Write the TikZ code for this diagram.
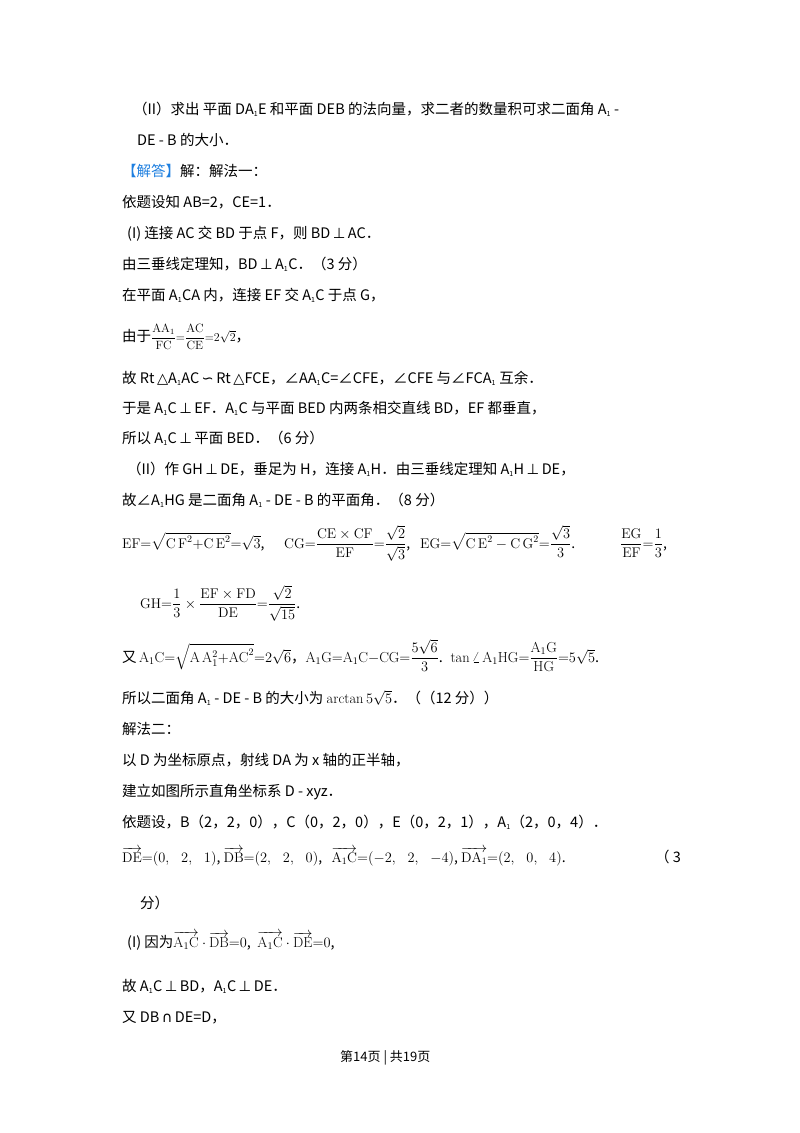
\documentclass[tikz,border=0pt]{standalone}
\usepackage{amsmath}
\usepackage{fontspec}
\setmainfont{Noto Sans CJK SC}
\setmathrm{Latin Modern Roman}
\newfontfamily\dv{DejaVu Sans}
\begin{document}
\begin{tikzpicture}[x=1pt,y=-1pt,every node/.style={anchor=base west,inner sep=0pt,font=\fontsize{14.5}{17}\selectfont},
 m/.style={font=\fontsize{14}{17}\selectfont}]
\useasboundingbox (0,0) rectangle (800,1133);
\fill[white] (0,0) rectangle (800,1133);
\newcommand{\s}[1]{\textsubscript{\scriptsize #1}}
\node (l1) at (133,114) {（II）求出 平面 DA\s1E 和平面 DEB 的法向量，求二者的数量积可求二面角 A\s1 -};
\node (l2) at (137,145) {DE - B 的大小．};
\node (l3) at (122,176) {\textcolor[HTML]{1E7FE0}{【解答】}解：解法一：};
\node (l4) at (122,207) {依题设知 AB=2，CE=1．};
\node (l5) at (127,238) {(I) 连接 AC 交 BD 于点 F，则 BD\,{\dv ⊥}\,AC．};
\node (l6) at (122,269) {由三垂线定理知，BD\,{\dv ⊥}\,A\s1C．（3 分）};
\node (l7) at (122,300) {在平面 A\s1CA 内，连接 EF 交 A\s1C 于点 G，};
\node (l8) at (122,341) {由于{\fontsize{12}{14}\selectfont$\dfrac{\mathrm{AA_1}}{\mathrm{FC}}{=}\dfrac{\mathrm{AC}}{\mathrm{CE}}{=}2\sqrt{2}$}，};
\node (l9) at (122,383) {故 Rt\,{\dv △}A\s1AC\,{\dv ∽}\,Rt\,{\dv △}FCE，∠AA\s1C=∠CFE，∠CFE 与∠FCA\s1 互余．};
\node (l10) at (122,413) {于是 A\s1C\,{\dv ⊥}\,EF．A\s1C 与平面 BED 内两条相交直线 BD，EF 都垂直，};
\node (l11) at (122,443) {所以 A\s1C\,{\dv ⊥}\,平面 BED．（6 分）};
\node (l12) at (127,474) {（II）作 GH\,{\dv ⊥}\,DE，垂足为 H，连接 A\s1H．由三垂线定理知 A\s1H\,{\dv ⊥}\,DE，};
\node (l13) at (122,505) {故∠A\s1HG 是二面角 A\s1 - DE - B 的平面角．（8 分）};
\node[m] (f1) at (122,548) {$\mathrm{EF}{=}\sqrt{\mathrm{C\,F}^2{+}\mathrm{C\,E}^2}{=}\sqrt3$,};
\node[m] (f2) at (284,548) {$\mathrm{CG}{=}\dfrac{\mathrm{CE}\times\mathrm{CF}}{\mathrm{EF}}{=}\dfrac{\sqrt2}{\sqrt3}$,};
\node[m] (f3) at (420,548) {$\mathrm{EG}{=}\sqrt{\mathrm{C\,E}^2-\mathrm{C\,G}^2}{=}\dfrac{\sqrt3}{3}$.};
\node[m] (f4) at (620,548) {$\dfrac{\mathrm{EG}}{\mathrm{EF}}{=}\dfrac{1}{3}$,};
\node[m] (f5) at (140,608) {$\mathrm{GH}{=}\dfrac13\times\dfrac{\mathrm{EF}\times\mathrm{FD}}{\mathrm{DE}}{=}\dfrac{\sqrt2}{\sqrt{15}}$.};
\node (l14) at (122,662) {又\,{\fontsize{14.5}{18}\selectfont $\mathrm{A_1C}{=}\sqrt{\mathrm{A\,A_1^2}{+}\mathrm{AC}^2}{=}2\sqrt6$，$\mathrm{A_1G}{=}\mathrm{A_1C}{-}\mathrm{CG}{=}\dfrac{5\sqrt6}{3}$. \ $\tan\angle\,\mathrm{A_1HG}{=}\dfrac{\mathrm{A_1G}}{\mathrm{HG}}{=}5\sqrt5$.}};
\node (l15) at (122,703) {所以二面角 A\s1 - DE - B 的大小为 $\arctan5\sqrt5$．（（12 分））};
\node (l16) at (122,734) {解法二：};
\node (l17) at (122,765) {以 D 为坐标原点，射线 DA 为 x 轴的正半轴，};
\node (l18) at (122,796) {建立如图所示直角坐标系 D - xyz．};
\node (l19) at (122,827) {依题设，B（2，2，0），C（0，2，0），E（0，2，1），A\s1（2，0，4）．};
\node[m] (l20) at (122,862) {$\overrightarrow{\mathrm{DE}}{=}(0,\ \ \ 2,\ \ \ 1)$,\ $\overrightarrow{\mathrm{DB}}{=}(2,\ \ \ 2,\ \ \ 0)$,\ \ \ $\overrightarrow{\mathrm{A_1C}}{=}(-2,\ \ \ 2,\ \ \ -4)$,\ $\overrightarrow{\mathrm{DA_1}}{=}(2,\ \ \ 0,\ \ \ 4)$.};
\node (l21) at (655,862) {（ 3};
\node (l22) at (140,908) {分）};
\node (l23) at (127,947) {(I) 因为{\fontsize{14.5}{18}\selectfont $\overrightarrow{\mathrm{A_1C}}\cdot\overrightarrow{\mathrm{DB}}{=}0$,\ \ $\overrightarrow{\mathrm{A_1C}}\cdot\overrightarrow{\mathrm{DE}}{=}0$,}};
\node (l24) at (122,991) {故 A\s1C\,{\dv ⊥}\,BD，A\s1C\,{\dv ⊥}\,DE．};
\node (l25) at (122,1022) {又 DB\,{\dv ∩}\,DE=D，};
\node[font=\fontsize{13}{15}\selectfont] (ft) at (340,1061) {第14页 | 共19页};
\end{tikzpicture}
\end{document}
